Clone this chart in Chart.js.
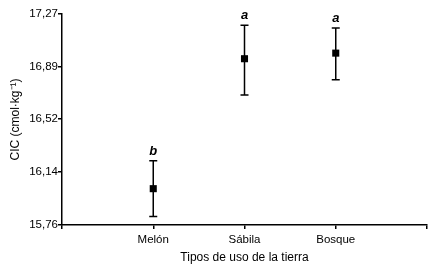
<!DOCTYPE html>
<html>
<head>
<meta charset="utf-8">
<script src="https://cdn.jsdelivr.net/npm/chart.js@4/dist/chart.umd.min.js"></script>
<style>
  html, body { margin: 0; padding: 0; background: #fff; }
  #wrap { width: 434px; height: 270px; }
</style>
</head>
<body>
<div id="wrap"><canvas id="cicChart" width="434" height="270"></canvas></div>
<script>
const categories = ['Melón', 'Sábila', 'Bosque'];
const means = [16.02, 16.95, 16.99];
const lower = [15.82, 16.69, 16.80];
const upper = [16.22, 17.19, 17.17];
const letters = ['b', 'a', 'a'];
const yTicks = [15.76, 16.14, 16.52, 16.89, 17.27];

const FONT = '"Liberation Sans", Arial, sans-serif';

// error bars + significance letters
const errorBars = {
    id: 'errorBars',
    beforeDatasetsDraw(chart) {
        const { ctx, scales: { x, y } } = chart;
        ctx.save();
        ctx.strokeStyle = '#000';
        ctx.lineWidth = 1.5;
        means.forEach((m, i) => {
            const px = x.getPixelForValue(i + 1);
            const top = y.getPixelForValue(upper[i]);
            const bot = y.getPixelForValue(lower[i]);
            ctx.beginPath();
            ctx.moveTo(px, top);
            ctx.lineTo(px, bot);
            ctx.moveTo(px - 4, top);
            ctx.lineTo(px + 4, top);
            ctx.moveTo(px - 4, bot);
            ctx.lineTo(px + 4, bot);
            ctx.stroke();
        });
        ctx.restore();
    },
    afterDatasetsDraw(chart) {
        const { ctx, scales: { x, y } } = chart;
        ctx.save();
        ctx.fillStyle = '#000';
        ctx.font = 'italic bold 13px ' + FONT;
        ctx.textAlign = 'center';
        ctx.textBaseline = 'bottom';
        letters.forEach((l, i) => {
            const px = x.getPixelForValue(i + 1);
            const top = y.getPixelForValue(upper[i]);
            ctx.fillText(l, px, top - 3);
        });
        ctx.restore();
    }
};

new Chart(document.getElementById('cicChart'), {
    type: 'scatter',
    data: {
        datasets: [{
            data: means.map((v, i) => ({ x: i + 1, y: v })),
            pointStyle: 'rect',
            pointRadius: 5,
            pointBackgroundColor: '#000',
            pointBorderColor: '#000',
            pointBorderWidth: 0
        }]
    },
    options: {
        responsive: false,
        animation: false,
        layout: { padding: { top: 14, right: 7, left: 0, bottom: 0 } },
        plugins: {
            legend: { display: false },
            tooltip: { enabled: false }
        },
        scales: {
            x: {
                type: 'linear',
                min: 0,
                max: 4,
                border: { color: '#000', width: 1.5 },
                grid: { drawOnChartArea: false, color: '#000', tickLength: 4, lineWidth: 1.5 },
                ticks: {
                    stepSize: 1,
                    color: '#000',
                    padding: 4,
                    font: { family: FONT, size: 11.5 },
                    callback: v => categories[v - 1] || ''
                },
                title: {
                    display: true,
                    text: 'Tipos de uso de la tierra',
                    color: '#000',
                    padding: { top: 2, bottom: 5 },
                    font: { family: FONT, size: 12 }
                },
                afterFit: s => { s.height = 45; }
            },
            y: {
                type: 'linear',
                min: 15.76,
                max: 17.27,
                border: { color: '#000', width: 1.5 },
                grid: { drawOnChartArea: false, color: '#000', tickLength: 4, lineWidth: 1.5 },
                afterBuildTicks: s => { s.ticks = yTicks.map(v => ({ value: v })); },
                ticks: {
                    color: '#000',
                    padding: 0,
                    font: { family: FONT, size: 11.5 },
                    callback: v => v.toFixed(2).replace('.', ',')
                },
                title: {
                    display: true,
                    text: 'CIC (cmol·kg⁻¹)',
                    color: '#000',
                    padding: { top: 8, bottom: 0 },
                    font: { family: FONT, size: 12 }
                },
                afterFit: s => { s.width = 62; }
            }
        }
    },
    plugins: [errorBars]
});
</script>
</body>
</html>
